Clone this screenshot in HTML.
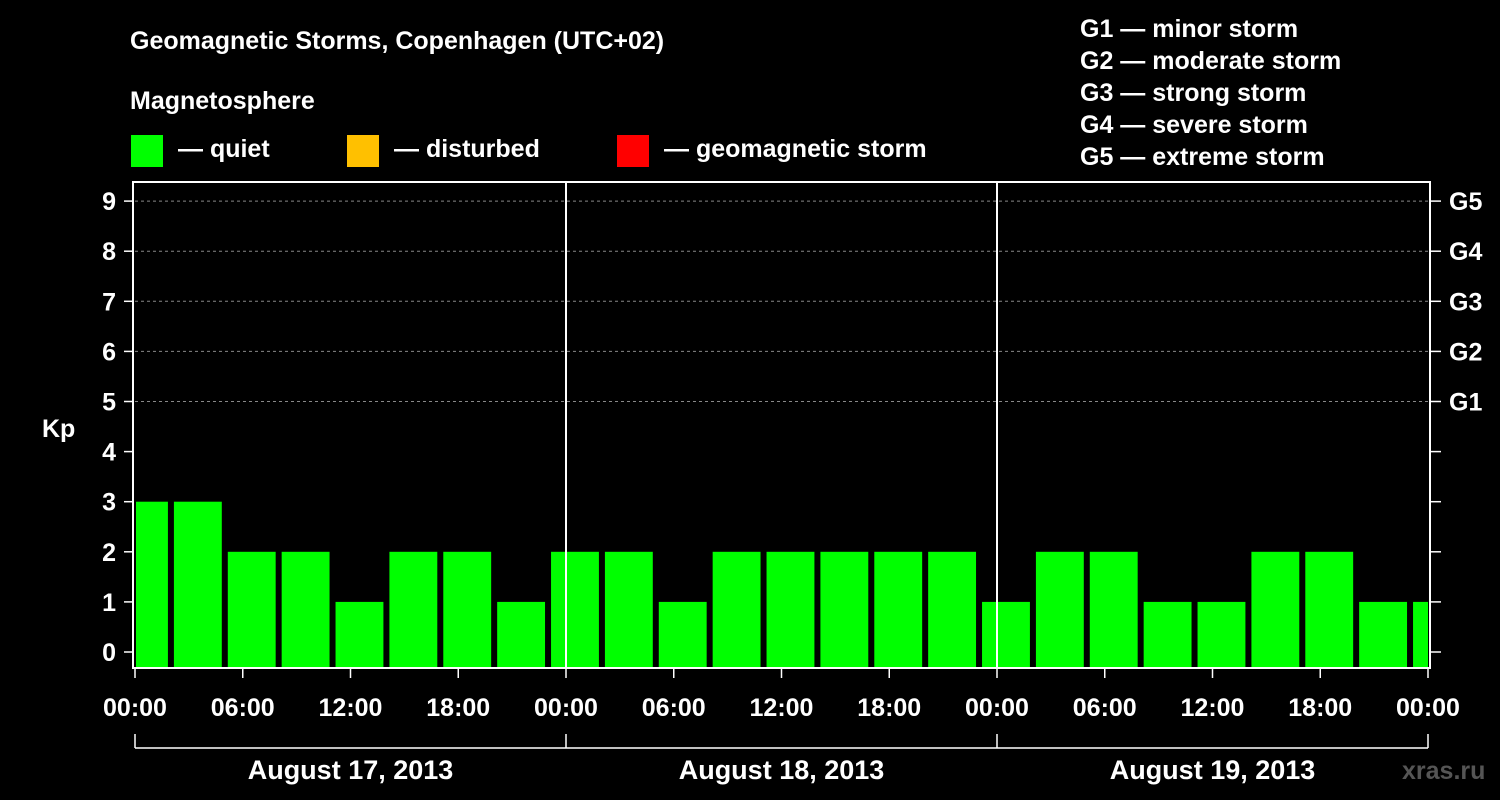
<!DOCTYPE html>
<html><head><meta charset="utf-8"><style>
body{margin:0;background:#000;}
svg{display:block;font-family:"Liberation Sans",Arial,sans-serif;font-weight:bold;}
</style></head><body>
<svg width="1500" height="800" xmlns="http://www.w3.org/2000/svg">
<rect width="1500" height="800" fill="#000"/>
<text x="130" y="49" fill="#fff" font-size="25">Geomagnetic Storms, Copenhagen (UTC+02)</text>
<text x="130" y="109" fill="#fff" font-size="25">Magnetosphere</text>
<g><rect x="131" y="135" width="32" height="32" fill="#00ff00"/><text x="178" y="157" fill="#fff" font-size="25">— quiet</text></g>
<g><rect x="347" y="135" width="32" height="32" fill="#ffc000"/><text x="394" y="157" fill="#fff" font-size="25">— disturbed</text></g>
<g><rect x="617" y="135" width="32" height="32" fill="#ff0000"/><text x="664" y="157" fill="#fff" font-size="25">— geomagnetic storm</text></g>
<g fill="#fff" font-size="25">
<text x="1080" y="37">G1 — minor storm</text>
<text x="1080" y="69">G2 — moderate storm</text>
<text x="1080" y="101">G3 — strong storm</text>
<text x="1080" y="133">G4 — severe storm</text>
<text x="1080" y="165">G5 — extreme storm</text>
</g>
<text x="42" y="437" fill="#fff" font-size="25">Kp</text>
<text x="1402" y="779" fill="#555" font-size="25">xras.ru</text>
<g id="plot"></g>
</svg>
<script>
const kpValues=[3,3,2,2,1,2,2,1, 2,2,1,2,2,2,2,2, 1,2,2,1,1,2,2,1, 1];
const barStartHours=[-1,2,5,8,11,14,17,20, 23,26,29,32,35,38,41,44, 47,50,53,56,59,62,65,68, 71];
const dayLabels=["August 17, 2013","August 18, 2013","August 19, 2013"];
const yTicks=[0,1,2,3,4,5,6,7,8,9];
const gLabels=["G1","G2","G3","G4","G5"];
const hourLabels=["00:00","06:00","12:00","18:00"];
const NS="http://www.w3.org/2000/svg";
const X0=135,X1=1428,PT=182,PB=668;
const xs=h=>X0+(X1-X0)*h/72;
const ys=k=>652-50.1*k;
const g=document.getElementById('plot');
function mk(t,a,p){const e=document.createElementNS(NS,t);for(const k in a)e.setAttribute(k,a[k]);(p||g).appendChild(e);return e;}
// bars
kpValues.forEach((v,i)=>{
 const h0=barStartHours[i];
 let x0=xs(h0)+3,x1=xs(h0+3)-3;
 x0=Math.max(x0,X0+1);x1=Math.min(x1,X1);
 const c=v>=5?'#ff0000':(v>=4?'#ffc000':'#00ff00');
 const r=mk('rect',{x:x0,y:ys(v),width:x1-x0,height:PB-ys(v),fill:c});
 
 
});
// grid & y ticks
yTicks.forEach(k=>{
 const y=ys(k);
 if(k>=5){const l=mk('line',{x1:X0,x2:X1+2,y1:y,y2:y,stroke:'#888','stroke-dasharray':'3,3','stroke-width':1});
 }
 mk('line',{x1:124,x2:133,y1:y,y2:y,stroke:'#fff','stroke-width':1.5});
 mk('line',{x1:1430,x2:1441,y1:y,y2:y,stroke:'#fff','stroke-width':1.5});
 const t=mk('text',{x:116,y:y+9,fill:'#fff','font-size':25,'text-anchor':'end'});t.textContent=k;
 
 if(k>=5){const gt=mk('text',{x:1449,y:y+9,fill:'#fff','font-size':25});gt.textContent=gLabels[k-5];
 }
});
// frame
mk('rect',{x:133,y:PT,width:1297,height:PB-PT,fill:'none',stroke:'#fff','stroke-width':2});
[1,2].forEach(d=>{mk('line',{x1:xs(24*d),x2:xs(24*d),y1:PT,y2:PB,stroke:'#fff','stroke-width':2});});
// x ticks
for(let h=0;h<=72;h+=6){
 const x=xs(h);
 mk('line',{x1:x,x2:x,y1:PB,y2:PB+10,stroke:'#fff','stroke-width':1.5});
 const t=mk('text',{x:x,y:716,fill:'#fff','font-size':25,'text-anchor':'middle'});
 t.textContent=hourLabels[(h/6)%4];
 
}
// day bracket
mk('line',{x1:X0,x2:X1,y1:748,y2:748,stroke:'#fff','stroke-width':1.5});
[0,24,48,72].forEach(h=>mk('line',{x1:xs(h),x2:xs(h),y1:734,y2:748,stroke:'#fff','stroke-width':1.5}));
dayLabels.forEach((d,i)=>{
 const t=mk('text',{x:xs(24*i+12),y:779,fill:'#fff','font-size':27,'text-anchor':'middle'});t.textContent=d;
 
});
</script>
</body></html>
